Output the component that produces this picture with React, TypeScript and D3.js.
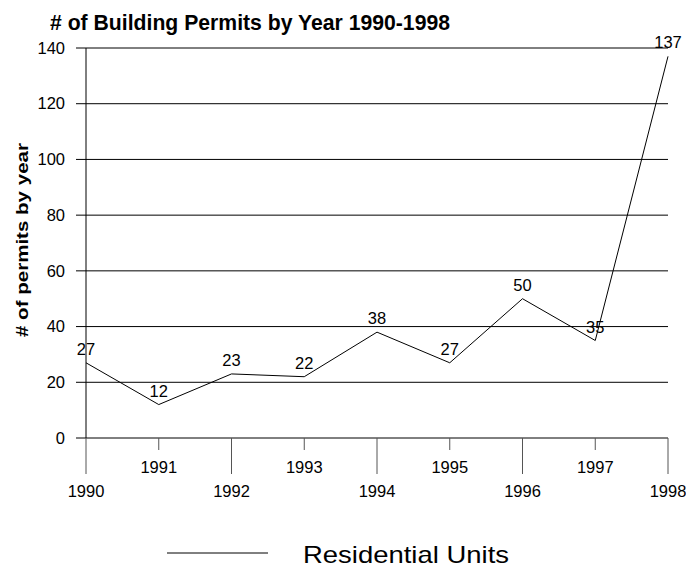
import { line, scaleLinear } from 'd3'

const years = [1990, 1991, 1992, 1993, 1994, 1995, 1996, 1997, 1998]
const permits = [27, 12, 23, 22, 38, 27, 50, 35, 137]
const yTicks = [0, 20, 40, 60, 80, 100, 120, 140]

const chartWidth = 686
const chartHeight = 568

const plot = {
  left: 86,
  right: 668,
  top: 48,
  bottom: 438,
}

const font = 'Arial, "Liberation Sans", sans-serif'

function App() {
  const xScale = scaleLinear()
    .domain([years[0], years[years.length - 1]])
    .range([plot.left, plot.right])

  const yScale = scaleLinear().domain([0, 140]).range([plot.bottom, plot.top])

  const points = years.map((year, index) => ({ year, value: permits[index] }))

  const trendLine = line<{ year: number; value: number }>()
    .x((point) => xScale(point.year))
    .y((point) => yScale(point.value))

  return (
    <svg
      width={chartWidth}
      height={chartHeight}
      viewBox={`0 0 ${chartWidth} ${chartHeight}`}
      style={{ position: 'absolute', left: 0, top: 0, background: '#fff' }}
      fontFamily={font}
    >
      <text
        x={50}
        y={30}
        fontSize={21.5}
        fontWeight="bold"
        textLength={400}
        lengthAdjust="spacingAndGlyphs"
      >
        # of Building Permits by Year 1990-1998
      </text>

      <text
        transform={`translate(28, 240) rotate(-90)`}
        textAnchor="middle"
        fontSize={17}
        fontWeight="bold"
        textLength={194}
        lengthAdjust="spacingAndGlyphs"
      >
        # of permits by year
      </text>

      {yTicks.map((tick) => {
        const y = yScale(tick)
        return (
          <g key={`y-${tick}`}>
            <line x1={plot.left - 10} y1={y} x2={plot.right} y2={y} stroke="#000" strokeWidth={1} />
            <text x={65} y={y} dy="0.35em" textAnchor="end" fontSize={16.5}>
              {tick}
            </text>
          </g>
        )
      })}

      <line x1={plot.left} y1={plot.top} x2={plot.left} y2={plot.bottom} stroke="#000" />

      {years.map((year, index) => {
        const x = xScale(year)
        const isEven = index % 2 === 0
        return (
          <g key={`x-${year}`}>
            <line
              x1={x}
              y1={plot.bottom}
              x2={x}
              y2={plot.bottom + (isEven ? 36 : 12)}
              stroke="#555"
            />
            <text
              x={x}
              y={isEven ? 497 : 473}
              textAnchor="middle"
              fontSize={16.5}
            >
              {year}
            </text>
          </g>
        )
      })}

      <path d={trendLine(points) ?? ''} fill="none" stroke="#000" strokeWidth={1} />

      {points.map((point) => (
        <text
          key={`label-${point.year}`}
          x={xScale(point.year)}
          y={yScale(point.value) - 8}
          textAnchor="middle"
          fontSize={16.5}
        >
          {point.value}
        </text>
      ))}

      <line x1={167} y1={553} x2={268} y2={553} stroke="#000" />
      <text
        x={303}
        y={563}
        fontSize={24}
        textLength={206}
        lengthAdjust="spacingAndGlyphs"
      >
        Residential Units
      </text>
    </svg>
  )
}

export default App
